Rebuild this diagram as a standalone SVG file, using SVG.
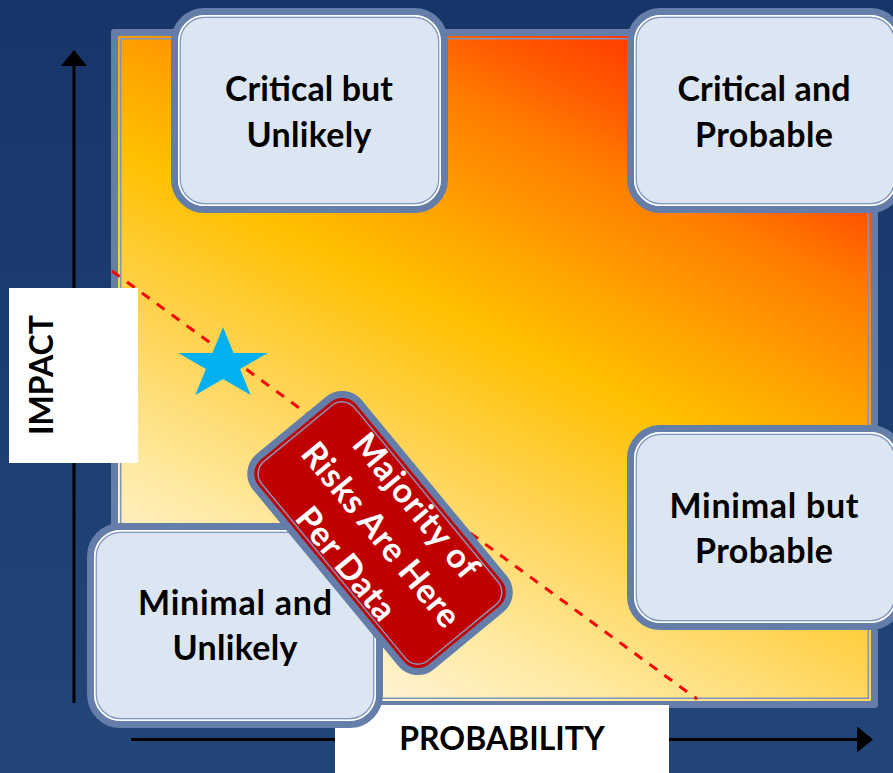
<svg xmlns="http://www.w3.org/2000/svg" width="893" height="773" viewBox="0 0 893 773">
  <defs>
    <linearGradient id="bg" x1="0" y1="0" x2="0" y2="1">
      <stop offset="0" stop-color="#173568"/>
      <stop offset="1" stop-color="#224679"/>
    </linearGradient>
    <!-- heat field: pale cream bottom-left through yellow to red top-right -->
    <linearGradient id="heat" gradientUnits="userSpaceOnUse" x1="-129" y1="575" x2="276" y2="-251">
      <stop offset="0" stop-color="#fffbf2"/>
      <stop offset="0.128" stop-color="#fff3d0"/>
      <stop offset="0.237" stop-color="#ffe9a0"/>
      <stop offset="0.373" stop-color="#ffd558"/>
      <stop offset="0.536" stop-color="#ffc000"/>
      <stop offset="0.639" stop-color="#ffa000"/>
      <stop offset="0.748" stop-color="#ff7c00"/>
      <stop offset="0.813" stop-color="#ff5c00"/>
      <stop offset="0.882" stop-color="#ff4000"/>
      <stop offset="1" stop-color="#ff3000"/>
    </linearGradient>
    <marker id="arrow" viewBox="0 0 16 26" refX="0" refY="13" markerWidth="16" markerHeight="26" markerUnits="userSpaceOnUse" orient="auto">
      <path d="M0,0 L16,13 L0,26 Z" fill="#000"/>
    </marker>
  </defs>
  <style>
    .lbl { font-family: Lato, "Liberation Sans", Arial, sans-serif; font-weight: bold; font-size: 34px; text-anchor: middle; fill: #000; }
    .cap { font-size: 32px; }
    .lbl-w { fill: #fff; }
    .box { fill: #dce6f2; stroke: #647ea9; stroke-width: 7; }
    .hl { fill: none; stroke: #ffffff; stroke-width: 1.6; }
    .ln { fill: none; stroke: #7f96bf; stroke-width: 1.2; }
    .axis { stroke: #000; stroke-width: 3; fill: none; marker-end: url(#arrow); }
    .divider { stroke: #ff0000; stroke-width: 3; stroke-dasharray: 9.5 9; fill: none; }
    .tag { fill: #ffffff; }
  </style>

  <!-- backdrop -->
  <rect x="0" y="0" width="893" height="773" fill="url(#bg)"/>

  <!-- plot frame with heat field -->
  <g id="frame">
    <rect x="111" y="29" width="767" height="679" rx="3" fill="#647ea9"/>
    <rect x="118" y="36" width="753" height="665" fill="url(#heat)"/>
    <rect x="120" y="38" width="749" height="661" fill="#7f95bd"/>
    <rect x="121.5" y="39.5" width="746" height="658" fill="url(#heat)"/>
  </g>

  <!-- threshold line and axes -->
  <g id="connectors">
    <line class="divider" x1="112" y1="271" x2="697" y2="699"/>
    <line class="axis" x1="74" y1="703" x2="74" y2="66"/>
    <line class="axis" x1="131" y1="739.5" x2="857" y2="739.5"/>
  </g>

  <!-- axis captions -->
  <g id="axis-impact">
    <rect class="tag" x="9" y="288" width="129" height="175"/>
    <text class="lbl cap" transform="translate(53,375) rotate(-90)">IMPACT</text>
  </g>
  <g id="axis-probability">
    <rect class="tag" x="335" y="705" width="334" height="68"/>
    <text class="lbl cap" x="502" y="750">PROBABILITY</text>
  </g>

  <!-- quadrants -->
  <g id="critical-unlikely">
    <rect class="box" x="174.5" y="11.5" width="270" height="198" rx="30"/>
    <rect class="hl" x="178.8" y="15.8" width="261.4" height="189.4" rx="26"/>
    <rect class="ln" x="180.3" y="17.3" width="258.4" height="186.4" rx="24.5"/>
    <text class="lbl" x="309" y="101" textLength="168">Critical but</text>
    <text class="lbl" x="309" y="147" textLength="125">Unlikely</text>
  </g>

  <g id="critical-probable">
    <rect class="box" x="630.5" y="11.5" width="270" height="198" rx="30"/>
    <rect class="hl" x="634.8" y="15.8" width="261.4" height="189.4" rx="26"/>
    <rect class="ln" x="636.3" y="17.3" width="258.4" height="186.4" rx="24.5"/>
    <text class="lbl" x="764" y="101" textLength="173">Critical and</text>
    <text class="lbl" x="764" y="147" textLength="138">Probable</text>
  </g>

  <g id="minimal-probable">
    <rect class="box" x="630.5" y="428.5" width="270" height="198" rx="30"/>
    <rect class="hl" x="634.8" y="432.8" width="261.4" height="189.4" rx="26"/>
    <rect class="ln" x="636.3" y="434.3" width="258.4" height="186.4" rx="24.5"/>
    <text class="lbl" x="764" y="518" textLength="189">Minimal but</text>
    <text class="lbl" x="764" y="563" textLength="138">Probable</text>
  </g>

  <g id="minimal-unlikely">
    <rect class="box" x="90.5" y="526.5" width="289" height="198" rx="30"/>
    <rect class="hl" x="94.8" y="530.8" width="280.4" height="189.4" rx="26"/>
    <rect class="ln" x="96.3" y="532.3" width="277.4" height="186.4" rx="24.5"/>
    <text class="lbl" x="235" y="615" textLength="194">Minimal and</text>
    <text class="lbl" x="235" y="660" textLength="125">Unlikely</text>
  </g>

  <!-- marker star -->
  <g id="star">
    <polygon fill="#00b0f0" points="223,327 233.55,353 267.7,353 240.07,369.04 250.6,395 223,378.96 195.4,395 205.93,369.04 178.3,353 212.45,353"/>
  </g>

  <!-- callout tilted along the threshold -->
  <g id="majority-callout" transform="translate(380,533) rotate(50.5)">
    <rect x="-136" y="-67" width="272" height="134" rx="22" fill="#c00000" stroke="#647ea9" stroke-width="7"/>
    <rect x="-129" y="-60" width="258" height="120" rx="16" fill="none" stroke="#8b93b9" stroke-width="1.5"/>
    <text class="lbl lbl-w" x="2" y="-33.5" textLength="177">Majority of</text>
    <text class="lbl lbl-w" x="2" y="12" textLength="228">Risks Are Here</text>
    <text class="lbl lbl-w" x="2" y="57.5" textLength="136">Per Data</text>
  </g>
</svg>
